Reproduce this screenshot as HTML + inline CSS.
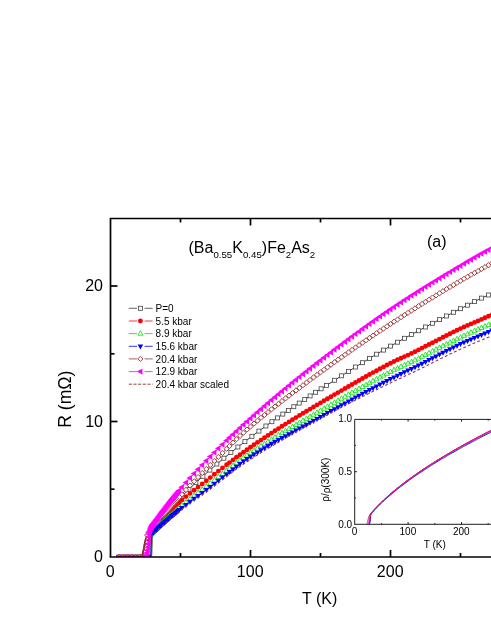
<!DOCTYPE html>
<html><head><meta charset="utf-8"><title>chart</title>
<style>html,body{margin:0;padding:0;background:#fff}body{width:491px;height:635px;overflow:hidden;font-family:"Liberation Sans",sans-serif}</style></head>
<body>
<svg width="491" height="635" viewBox="0 0 491 635" style="display:block;will-change:transform">
<defs>
<clipPath id="cp"><rect x="110.5" y="218.5" width="381" height="338.5"/></clipPath><clipPath id="ci"><rect x="354.7" y="419.4" width="137" height="104.3"/></clipPath>
<rect id="m0" x="-2" y="-2" width="4" height="4" fill="#fff" stroke="#444" stroke-width="0.8"/>
<circle id="m1" r="2.45" fill="#ff0000"/>
<path id="m2" d="M0-2.9L2.5 1.6H-2.5Z" fill="#fff" stroke="#00e000" stroke-width="0.8"/>
<path id="m3" d="M0 3.2L2.8-1.8H-2.8Z" fill="#0000ff"/>
<path id="m4" d="M0-2.6L2.6 0L0 2.6L-2.6 0Z" fill="#fff" stroke="#9c3636" stroke-width="0.95"/>
<path id="m5" d="M-3.5 0L2-3.1V3.1Z" fill="#ff00ff"/>
</defs>
<rect width="491" height="635" fill="#fff"/>
<g clip-path="url(#cp)">
<polyline points="118.9,557.0 123.1,557.0 127.3,557.0 131.5,557.0 135.7,557.0 138.5,557.0 138.6,557.0 138.8,557.0 138.9,557.0 139.1,557.0 139.2,557.0 139.3,557.0 139.5,557.0 139.6,557.0 139.8,557.0 139.9,557.0 139.9,557.0 140.0,557.0 140.2,557.0 140.3,557.0 140.5,557.0 140.6,557.0 140.7,557.0 140.9,557.0 141.0,557.0 141.2,557.0 141.3,557.0 141.4,557.0 141.6,557.0 141.7,557.0 141.9,557.0 142.0,557.0 142.1,557.0 142.3,557.0 142.4,557.0 142.6,557.0 142.7,557.0 142.8,557.0 143.0,557.0 143.1,557.0 143.3,557.0 143.4,557.0 143.5,557.0 143.7,557.0 143.8,557.0 144.0,557.0 144.1,557.0 144.1,557.0 144.2,557.0 144.4,557.0 144.5,557.0 144.7,557.0 144.8,557.0 144.9,557.0 145.1,557.0 145.2,557.0 145.4,557.0 145.5,557.0 145.6,557.0 145.8,557.0 145.9,557.0 146.1,557.0 146.2,557.0 146.3,557.0 146.5,557.0 146.6,557.0 146.8,557.0 146.9,557.0 147.0,557.0 147.2,557.0 147.3,557.0 147.5,557.0 147.6,557.0 147.7,557.0 147.9,557.0 148.0,557.0 148.2,557.0 148.3,557.0 148.3,557.0 148.4,557.0 148.6,557.0 148.7,557.0 148.9,557.0 149.0,557.0 149.1,557.0 149.3,557.0 149.4,557.0 149.6,557.0 149.7,557.0 149.8,557.0 150.0,557.0 150.1,557.0 150.3,557.0 150.4,557.0 150.5,557.0 150.7,557.0 150.8,557.0 151.0,557.0 151.1,556.9 151.2,556.8 151.4,556.6 151.5,556.1 151.7,555.1 151.8,553.0 151.9,549.3 152.1,544.3 152.2,539.1 152.4,535.3 152.5,533.0 152.6,531.7 152.6,531.7 152.8,531.0 152.9,530.6 153.1,530.3 153.2,530.1 153.3,530.0 153.3,529.9 153.5,529.7 153.6,529.5 153.8,529.3 153.9,529.1 153.9,529.1 154.0,528.9 154.2,528.8 154.3,528.6 154.5,528.4 154.5,528.3 154.6,528.2 154.7,528.0 154.9,527.8 155.0,527.6 155.2,527.4 155.2,527.4 155.3,527.2 155.4,527.1 155.6,526.9 155.7,526.7 155.8,526.6 155.9,526.5 156.0,526.3 156.1,526.1 156.3,525.9 156.4,525.7 156.4,525.7 156.6,525.6 156.7,525.4 158.0,523.7 159.2,522.1 160.5,520.5 161.7,518.9 163.0,517.3 164.3,515.7 165.5,514.2 166.8,512.7 168.0,511.2 169.3,509.7 170.6,508.3 171.8,506.9 173.1,505.5 174.3,504.1 175.6,502.7 176.9,501.4 178.1,500.1 179.4,498.8 181.9,496.2 188.9,489.3 195.9,482.6 202.9,476.3 209.9,470.1 216.9,464.0 223.9,458.2 230.9,452.5 237.9,447.0 244.9,441.6 251.9,436.3 258.9,431.1 265.9,426.0 271.9,421.7 277.4,417.9 282.8,414.1 288.3,410.4 293.8,406.7 299.2,403.1 304.7,399.5 310.1,395.9 315.6,392.3 321.1,388.8 326.5,385.4 334.5,380.3 341.5,375.8 348.5,371.4 355.5,367.0 362.5,362.7 369.5,358.4 376.5,354.2 383.5,350.1 390.5,346.1 397.5,342.2 404.5,338.3 411.5,334.5 418.5,330.7 425.5,327.0 432.5,323.3 439.5,319.6 446.5,316.0 453.5,312.3 460.5,308.7 467.5,305.2 474.5,301.6 481.5,298.1 488.5,295.0" fill="none" stroke="#222" stroke-width="0.9"/>
<g><use href="#m0" x="118.9" y="557.0"/><use href="#m0" x="123.1" y="557.0"/><use href="#m0" x="127.3" y="557.0"/><use href="#m0" x="131.5" y="557.0"/><use href="#m0" x="135.7" y="557.0"/><use href="#m0" x="139.9" y="557.0"/><use href="#m0" x="144.1" y="557.0"/><use href="#m0" x="148.3" y="557.0"/><use href="#m0" x="152.6" y="531.7"/><use href="#m0" x="153.3" y="530.0"/><use href="#m0" x="153.9" y="529.1"/><use href="#m0" x="154.5" y="528.3"/><use href="#m0" x="155.2" y="527.4"/><use href="#m0" x="155.8" y="526.6"/><use href="#m0" x="156.4" y="525.7"/><use href="#m0" x="156.7" y="525.4"/><use href="#m0" x="158.0" y="523.7"/><use href="#m0" x="159.2" y="522.1"/><use href="#m0" x="160.5" y="520.5"/><use href="#m0" x="161.7" y="518.9"/><use href="#m0" x="163.0" y="517.3"/><use href="#m0" x="164.3" y="515.7"/><use href="#m0" x="165.5" y="514.2"/><use href="#m0" x="166.8" y="512.7"/><use href="#m0" x="168.0" y="511.2"/><use href="#m0" x="169.3" y="509.7"/><use href="#m0" x="170.6" y="508.3"/><use href="#m0" x="171.8" y="506.9"/><use href="#m0" x="173.1" y="505.5"/><use href="#m0" x="174.3" y="504.1"/><use href="#m0" x="175.6" y="502.7"/><use href="#m0" x="176.9" y="501.4"/><use href="#m0" x="178.1" y="500.1"/><use href="#m0" x="179.4" y="498.8"/><use href="#m0" x="181.9" y="496.2"/><use href="#m0" x="188.9" y="489.3"/><use href="#m0" x="195.9" y="482.6"/><use href="#m0" x="202.9" y="476.3"/><use href="#m0" x="209.9" y="470.1"/><use href="#m0" x="216.9" y="464.0"/><use href="#m0" x="223.9" y="458.2"/><use href="#m0" x="230.9" y="452.5"/><use href="#m0" x="237.9" y="447.0"/><use href="#m0" x="244.9" y="441.6"/><use href="#m0" x="251.9" y="436.3"/><use href="#m0" x="258.9" y="431.1"/><use href="#m0" x="265.9" y="426.0"/><use href="#m0" x="271.9" y="421.7"/><use href="#m0" x="277.4" y="417.9"/><use href="#m0" x="282.8" y="414.1"/><use href="#m0" x="288.3" y="410.4"/><use href="#m0" x="293.8" y="406.7"/><use href="#m0" x="299.2" y="403.1"/><use href="#m0" x="304.7" y="399.5"/><use href="#m0" x="310.1" y="395.9"/><use href="#m0" x="315.6" y="392.3"/><use href="#m0" x="321.1" y="388.8"/><use href="#m0" x="326.5" y="385.4"/><use href="#m0" x="334.5" y="380.3"/><use href="#m0" x="341.5" y="375.8"/><use href="#m0" x="348.5" y="371.4"/><use href="#m0" x="355.5" y="367.0"/><use href="#m0" x="362.5" y="362.7"/><use href="#m0" x="369.5" y="358.4"/><use href="#m0" x="376.5" y="354.2"/><use href="#m0" x="383.5" y="350.1"/><use href="#m0" x="390.5" y="346.1"/><use href="#m0" x="397.5" y="342.2"/><use href="#m0" x="404.5" y="338.3"/><use href="#m0" x="411.5" y="334.5"/><use href="#m0" x="418.5" y="330.7"/><use href="#m0" x="425.5" y="327.0"/><use href="#m0" x="432.5" y="323.3"/><use href="#m0" x="439.5" y="319.6"/><use href="#m0" x="446.5" y="316.0"/><use href="#m0" x="453.5" y="312.3"/><use href="#m0" x="460.5" y="308.7"/><use href="#m0" x="467.5" y="305.2"/><use href="#m0" x="474.5" y="301.6"/><use href="#m0" x="481.5" y="298.1"/><use href="#m0" x="488.5" y="295.0"/></g>
<polyline points="118.9,557.0 123.1,557.0 127.3,557.0 131.5,557.0 135.7,557.0 138.5,557.0 138.6,557.0 138.8,557.0 138.9,557.0 139.1,557.0 139.2,557.0 139.3,557.0 139.5,557.0 139.6,557.0 139.8,557.0 139.9,557.0 139.9,557.0 140.0,557.0 140.2,557.0 140.3,557.0 140.5,557.0 140.6,557.0 140.7,557.0 140.9,557.0 141.0,557.0 141.2,557.0 141.3,557.0 141.4,557.0 141.6,557.0 141.7,557.0 141.9,557.0 142.0,557.0 142.1,557.0 142.3,557.0 142.4,557.0 142.6,557.0 142.7,557.0 142.8,557.0 143.0,557.0 143.1,557.0 143.3,557.0 143.4,557.0 143.5,557.0 143.7,557.0 143.8,557.0 144.0,557.0 144.1,557.0 144.1,557.0 144.2,557.0 144.4,557.0 144.5,557.0 144.7,557.0 144.8,557.0 144.9,557.0 145.1,557.0 145.2,557.0 145.4,557.0 145.5,557.0 145.6,557.0 145.8,557.0 145.9,557.0 146.1,557.0 146.2,557.0 146.3,557.0 146.5,557.0 146.6,557.0 146.8,557.0 146.9,557.0 147.0,557.0 147.2,557.0 147.3,557.0 147.5,557.0 147.6,557.0 147.7,557.0 147.9,557.0 148.0,557.0 148.2,557.0 148.3,557.0 148.3,557.0 148.4,557.0 148.6,557.0 148.7,557.0 148.9,557.0 149.0,557.0 149.1,557.0 149.3,557.0 149.4,557.0 149.6,557.0 149.7,557.0 149.8,557.0 150.0,557.0 150.1,557.0 150.3,556.9 150.4,556.8 150.5,556.7 150.7,556.2 150.8,555.2 151.0,553.3 151.1,549.9 151.2,545.2 151.4,540.4 151.5,536.9 151.7,534.7 151.8,533.6 151.8,533.6 151.9,533.0 152.1,532.6 152.2,532.3 152.4,532.1 152.4,532.0 152.5,532.0 152.6,531.8 152.8,531.6 152.9,531.5 153.1,531.3 153.1,531.3 153.2,531.1 153.3,531.0 153.5,530.8 153.6,530.6 153.7,530.5 153.8,530.4 153.9,530.3 154.0,530.1 154.2,529.9 154.3,529.7 154.3,529.7 154.5,529.5 154.6,529.3 154.7,529.2 154.9,529.0 154.9,528.9 155.0,528.8 155.2,528.6 155.3,528.4 155.4,528.3 155.6,528.1 155.6,528.1 155.7,527.9 155.9,527.7 156.0,527.6 156.1,527.4 156.2,527.3 156.3,527.2 156.4,527.0 156.6,526.8 156.7,526.7 157.7,525.4 158.7,524.2 159.6,523.0 160.6,521.8 161.6,520.7 162.6,519.5 163.6,518.4 164.5,517.2 165.5,516.1 166.5,515.0 167.5,514.0 168.5,512.9 169.4,511.8 170.4,510.8 171.4,509.8 172.4,508.8 173.4,507.8 174.3,506.9 175.3,505.9 176.3,505.0 177.3,504.1 178.3,503.2 179.2,502.3 181.9,500.0 186.0,496.6 190.0,493.4 194.1,490.2 198.1,487.1 202.2,484.0 206.3,480.8 210.3,477.6 214.4,474.3 218.4,471.1 222.5,467.9 226.6,464.8 229.5,462.6 233.0,459.9 236.5,457.3 240.0,454.7 243.5,452.2 247.0,449.7 250.5,447.3 254.0,444.8 257.5,442.4 261.0,440.1 264.5,437.7 268.0,435.4 271.5,433.1 275.0,430.8 278.5,428.6 282.0,426.3 285.5,424.1 289.0,421.9 292.5,419.7 296.0,417.6 299.5,415.4 303.0,413.3 306.5,411.2 310.0,409.1 313.5,407.0 317.0,404.9 320.5,402.9 324.0,400.8 327.5,398.7 331.0,396.7 334.5,394.6 338.0,392.6 341.5,390.6 345.0,388.5 348.5,386.5 352.0,384.5 355.5,382.5 359.0,380.5 362.5,378.5 366.0,376.5 369.5,374.5 373.0,372.6 376.5,370.7 380.0,368.8 383.5,366.9 387.0,365.0 390.5,363.2 394.0,361.5 397.5,359.8 401.0,358.2 404.5,356.6 408.0,355.1 411.5,353.4 415.0,351.7 418.5,349.9 422.0,348.1 425.5,346.3 429.0,344.5 432.5,342.7 436.0,340.9 439.5,339.1 443.0,337.3 446.5,335.5 450.0,333.7 453.5,331.9 457.0,330.2 460.5,328.6 464.0,326.9 467.5,325.4 471.0,323.9 474.5,322.4 478.0,320.9 481.5,319.4 485.0,317.8 488.5,316.3 492.0,314.7" fill="none" stroke="#ff0000" stroke-width="0.9"/>
<g><use href="#m1" x="118.9" y="557.0"/><use href="#m1" x="123.1" y="557.0"/><use href="#m1" x="127.3" y="557.0"/><use href="#m1" x="131.5" y="557.0"/><use href="#m1" x="135.7" y="557.0"/><use href="#m1" x="139.9" y="557.0"/><use href="#m1" x="144.1" y="557.0"/><use href="#m1" x="148.3" y="557.0"/><use href="#m1" x="151.8" y="533.6"/><use href="#m1" x="152.4" y="532.0"/><use href="#m1" x="153.1" y="531.3"/><use href="#m1" x="153.7" y="530.5"/><use href="#m1" x="154.3" y="529.7"/><use href="#m1" x="154.9" y="528.9"/><use href="#m1" x="155.6" y="528.1"/><use href="#m1" x="156.2" y="527.3"/><use href="#m1" x="156.7" y="526.7"/><use href="#m1" x="157.7" y="525.4"/><use href="#m1" x="158.7" y="524.2"/><use href="#m1" x="159.6" y="523.0"/><use href="#m1" x="160.6" y="521.8"/><use href="#m1" x="161.6" y="520.7"/><use href="#m1" x="162.6" y="519.5"/><use href="#m1" x="163.6" y="518.4"/><use href="#m1" x="164.5" y="517.2"/><use href="#m1" x="165.5" y="516.1"/><use href="#m1" x="166.5" y="515.0"/><use href="#m1" x="167.5" y="514.0"/><use href="#m1" x="168.5" y="512.9"/><use href="#m1" x="169.4" y="511.8"/><use href="#m1" x="170.4" y="510.8"/><use href="#m1" x="171.4" y="509.8"/><use href="#m1" x="172.4" y="508.8"/><use href="#m1" x="173.4" y="507.8"/><use href="#m1" x="174.3" y="506.9"/><use href="#m1" x="175.3" y="505.9"/><use href="#m1" x="176.3" y="505.0"/><use href="#m1" x="177.3" y="504.1"/><use href="#m1" x="178.3" y="503.2"/><use href="#m1" x="179.2" y="502.3"/><use href="#m1" x="181.9" y="500.0"/><use href="#m1" x="186.0" y="496.6"/><use href="#m1" x="190.0" y="493.4"/><use href="#m1" x="194.1" y="490.2"/><use href="#m1" x="198.1" y="487.1"/><use href="#m1" x="202.2" y="484.0"/><use href="#m1" x="206.3" y="480.8"/><use href="#m1" x="210.3" y="477.6"/><use href="#m1" x="214.4" y="474.3"/><use href="#m1" x="218.4" y="471.1"/><use href="#m1" x="222.5" y="467.9"/><use href="#m1" x="226.6" y="464.8"/><use href="#m1" x="229.5" y="462.6"/><use href="#m1" x="233.0" y="459.9"/><use href="#m1" x="236.5" y="457.3"/><use href="#m1" x="240.0" y="454.7"/><use href="#m1" x="243.5" y="452.2"/><use href="#m1" x="247.0" y="449.7"/><use href="#m1" x="250.5" y="447.3"/><use href="#m1" x="254.0" y="444.8"/><use href="#m1" x="257.5" y="442.4"/><use href="#m1" x="261.0" y="440.1"/><use href="#m1" x="264.5" y="437.7"/><use href="#m1" x="268.0" y="435.4"/><use href="#m1" x="271.5" y="433.1"/><use href="#m1" x="275.0" y="430.8"/><use href="#m1" x="278.5" y="428.6"/><use href="#m1" x="282.0" y="426.3"/><use href="#m1" x="285.5" y="424.1"/><use href="#m1" x="289.0" y="421.9"/><use href="#m1" x="292.5" y="419.7"/><use href="#m1" x="296.0" y="417.6"/><use href="#m1" x="299.5" y="415.4"/><use href="#m1" x="303.0" y="413.3"/><use href="#m1" x="306.5" y="411.2"/><use href="#m1" x="310.0" y="409.1"/><use href="#m1" x="313.5" y="407.0"/><use href="#m1" x="317.0" y="404.9"/><use href="#m1" x="320.5" y="402.9"/><use href="#m1" x="324.0" y="400.8"/><use href="#m1" x="327.5" y="398.7"/><use href="#m1" x="331.0" y="396.7"/><use href="#m1" x="334.5" y="394.6"/><use href="#m1" x="338.0" y="392.6"/><use href="#m1" x="341.5" y="390.6"/><use href="#m1" x="345.0" y="388.5"/><use href="#m1" x="348.5" y="386.5"/><use href="#m1" x="352.0" y="384.5"/><use href="#m1" x="355.5" y="382.5"/><use href="#m1" x="359.0" y="380.5"/><use href="#m1" x="362.5" y="378.5"/><use href="#m1" x="366.0" y="376.5"/><use href="#m1" x="369.5" y="374.5"/><use href="#m1" x="373.0" y="372.6"/><use href="#m1" x="376.5" y="370.7"/><use href="#m1" x="380.0" y="368.8"/><use href="#m1" x="383.5" y="366.9"/><use href="#m1" x="387.0" y="365.0"/><use href="#m1" x="390.5" y="363.2"/><use href="#m1" x="394.0" y="361.5"/><use href="#m1" x="397.5" y="359.8"/><use href="#m1" x="401.0" y="358.2"/><use href="#m1" x="404.5" y="356.6"/><use href="#m1" x="408.0" y="355.1"/><use href="#m1" x="411.5" y="353.4"/><use href="#m1" x="415.0" y="351.7"/><use href="#m1" x="418.5" y="349.9"/><use href="#m1" x="422.0" y="348.1"/><use href="#m1" x="425.5" y="346.3"/><use href="#m1" x="429.0" y="344.5"/><use href="#m1" x="432.5" y="342.7"/><use href="#m1" x="436.0" y="340.9"/><use href="#m1" x="439.5" y="339.1"/><use href="#m1" x="443.0" y="337.3"/><use href="#m1" x="446.5" y="335.5"/><use href="#m1" x="450.0" y="333.7"/><use href="#m1" x="453.5" y="331.9"/><use href="#m1" x="457.0" y="330.2"/><use href="#m1" x="460.5" y="328.6"/><use href="#m1" x="464.0" y="326.9"/><use href="#m1" x="467.5" y="325.4"/><use href="#m1" x="471.0" y="323.9"/><use href="#m1" x="474.5" y="322.4"/><use href="#m1" x="478.0" y="320.9"/><use href="#m1" x="481.5" y="319.4"/><use href="#m1" x="485.0" y="317.8"/><use href="#m1" x="488.5" y="316.3"/><use href="#m1" x="492.0" y="314.7"/></g>
<polyline points="118.9,557.0 123.1,557.0 127.3,557.0 131.5,557.0 135.7,557.0 138.5,557.0 138.6,557.0 138.8,557.0 138.9,557.0 139.1,557.0 139.2,557.0 139.3,557.0 139.5,557.0 139.6,557.0 139.8,557.0 139.9,557.0 139.9,557.0 140.0,557.0 140.2,557.0 140.3,557.0 140.5,557.0 140.6,557.0 140.7,557.0 140.9,557.0 141.0,557.0 141.2,557.0 141.3,557.0 141.4,557.0 141.6,557.0 141.7,557.0 141.9,557.0 142.0,557.0 142.1,557.0 142.3,557.0 142.4,557.0 142.6,557.0 142.7,557.0 142.8,557.0 143.0,557.0 143.1,557.0 143.3,557.0 143.4,557.0 143.5,557.0 143.7,557.0 143.8,557.0 144.0,557.0 144.1,557.0 144.1,557.0 144.2,557.0 144.4,557.0 144.5,557.0 144.7,557.0 144.8,557.0 144.9,557.0 145.1,557.0 145.2,557.0 145.4,557.0 145.5,557.0 145.6,557.0 145.8,557.0 145.9,557.0 146.1,557.0 146.2,557.0 146.3,557.0 146.5,557.0 146.6,557.0 146.8,557.0 146.9,557.0 147.0,557.0 147.2,557.0 147.3,557.0 147.5,557.0 147.6,557.0 147.7,557.0 147.9,557.0 148.0,557.0 148.2,557.0 148.3,557.0 148.3,557.0 148.4,557.0 148.6,557.0 148.7,557.0 148.9,557.0 149.0,557.0 149.1,556.9 149.3,556.9 149.4,556.7 149.6,556.3 149.7,555.4 149.8,553.6 150.0,550.5 150.1,546.2 150.3,541.8 150.4,538.5 150.5,536.6 150.7,535.5 150.7,535.5 150.8,534.9 151.0,534.6 151.1,534.4 151.2,534.2 151.3,534.1 151.4,534.0 151.5,533.9 151.7,533.7 151.8,533.6 151.9,533.4 151.9,533.4 152.1,533.3 152.2,533.1 152.4,533.0 152.5,532.8 152.6,532.7 152.6,532.7 152.8,532.5 152.9,532.4 153.1,532.2 153.2,532.1 153.2,532.1 153.3,531.9 153.5,531.8 153.6,531.6 153.8,531.5 153.8,531.4 153.9,531.4 154.0,531.2 154.2,531.1 154.3,530.9 154.5,530.8 154.5,530.8 154.6,530.7 154.7,530.5 154.9,530.4 155.0,530.2 155.1,530.2 155.2,530.1 155.3,530.0 155.4,529.8 155.6,529.7 155.7,529.5 155.7,529.5 155.9,529.4 156.0,529.3 156.1,529.1 156.3,529.0 156.3,528.9 156.4,528.8 156.6,528.7 156.7,528.6 157.7,527.6 158.7,526.6 159.6,525.7 160.6,524.7 161.6,523.8 162.6,522.9 163.6,522.0 164.5,521.0 165.5,520.1 166.5,519.2 167.5,518.3 168.5,517.4 169.4,516.6 170.4,515.7 171.4,514.8 172.4,513.9 173.4,513.1 174.3,512.2 175.3,511.4 176.3,510.5 177.3,509.7 178.3,508.8 179.2,508.0 181.9,505.8 186.0,502.5 190.0,499.2 194.1,496.0 198.1,492.9 202.2,489.7 206.3,486.6 210.3,483.5 214.4,480.3 218.4,477.1 222.5,473.9 226.6,470.8 229.5,468.5 233.0,465.8 236.5,463.1 240.0,460.5 243.5,458.0 247.0,455.5 250.5,453.1 254.0,450.8 257.5,448.5 261.0,446.2 264.5,444.0 268.0,441.8 271.5,439.6 275.0,437.4 278.5,435.3 282.0,433.2 285.5,431.1 289.0,429.0 292.5,426.9 296.0,424.9 299.5,422.8 303.0,420.8 306.5,418.8 310.0,416.8 313.5,414.7 317.0,412.7 320.5,410.7 324.0,408.7 327.5,406.7 331.0,404.7 334.5,402.7 338.0,400.7 341.5,398.7 345.0,396.7 348.5,394.7 352.0,392.7 355.5,390.8 359.0,388.8 362.5,386.9 366.0,385.0 369.5,383.1 373.0,381.2 376.5,379.3 380.0,377.4 383.5,375.5 387.0,373.7 390.5,371.9 394.0,370.1 397.5,368.5 401.0,366.8 404.5,365.2 408.0,363.6 411.5,362.0 415.0,360.3 418.5,358.5 422.0,356.7 425.5,354.9 429.0,353.2 432.5,351.4 436.0,349.6 439.5,347.8 443.0,346.1 446.5,344.3 450.0,342.6 453.5,340.9 457.0,339.2 460.5,337.5 464.0,335.8 467.5,334.2 471.0,332.6 474.5,331.0 478.0,329.5 481.5,327.9 485.0,326.4 488.5,325.0 492.0,323.5" fill="none" stroke="#00e000" stroke-width="0.9"/>
<g><use href="#m2" x="118.9" y="557.0"/><use href="#m2" x="123.1" y="557.0"/><use href="#m2" x="127.3" y="557.0"/><use href="#m2" x="131.5" y="557.0"/><use href="#m2" x="135.7" y="557.0"/><use href="#m2" x="139.9" y="557.0"/><use href="#m2" x="144.1" y="557.0"/><use href="#m2" x="148.3" y="557.0"/><use href="#m2" x="150.7" y="535.5"/><use href="#m2" x="151.3" y="534.1"/><use href="#m2" x="151.9" y="533.4"/><use href="#m2" x="152.6" y="532.7"/><use href="#m2" x="153.2" y="532.1"/><use href="#m2" x="153.8" y="531.4"/><use href="#m2" x="154.5" y="530.8"/><use href="#m2" x="155.1" y="530.2"/><use href="#m2" x="155.7" y="529.5"/><use href="#m2" x="156.3" y="528.9"/><use href="#m2" x="156.7" y="528.6"/><use href="#m2" x="157.7" y="527.6"/><use href="#m2" x="158.7" y="526.6"/><use href="#m2" x="159.6" y="525.7"/><use href="#m2" x="160.6" y="524.7"/><use href="#m2" x="161.6" y="523.8"/><use href="#m2" x="162.6" y="522.9"/><use href="#m2" x="163.6" y="522.0"/><use href="#m2" x="164.5" y="521.0"/><use href="#m2" x="165.5" y="520.1"/><use href="#m2" x="166.5" y="519.2"/><use href="#m2" x="167.5" y="518.3"/><use href="#m2" x="168.5" y="517.4"/><use href="#m2" x="169.4" y="516.6"/><use href="#m2" x="170.4" y="515.7"/><use href="#m2" x="171.4" y="514.8"/><use href="#m2" x="172.4" y="513.9"/><use href="#m2" x="173.4" y="513.1"/><use href="#m2" x="174.3" y="512.2"/><use href="#m2" x="175.3" y="511.4"/><use href="#m2" x="176.3" y="510.5"/><use href="#m2" x="177.3" y="509.7"/><use href="#m2" x="178.3" y="508.8"/><use href="#m2" x="179.2" y="508.0"/><use href="#m2" x="181.9" y="505.8"/><use href="#m2" x="186.0" y="502.5"/><use href="#m2" x="190.0" y="499.2"/><use href="#m2" x="194.1" y="496.0"/><use href="#m2" x="198.1" y="492.9"/><use href="#m2" x="202.2" y="489.7"/><use href="#m2" x="206.3" y="486.6"/><use href="#m2" x="210.3" y="483.5"/><use href="#m2" x="214.4" y="480.3"/><use href="#m2" x="218.4" y="477.1"/><use href="#m2" x="222.5" y="473.9"/><use href="#m2" x="226.6" y="470.8"/><use href="#m2" x="229.5" y="468.5"/><use href="#m2" x="233.0" y="465.8"/><use href="#m2" x="236.5" y="463.1"/><use href="#m2" x="240.0" y="460.5"/><use href="#m2" x="243.5" y="458.0"/><use href="#m2" x="247.0" y="455.5"/><use href="#m2" x="250.5" y="453.1"/><use href="#m2" x="254.0" y="450.8"/><use href="#m2" x="257.5" y="448.5"/><use href="#m2" x="261.0" y="446.2"/><use href="#m2" x="264.5" y="444.0"/><use href="#m2" x="268.0" y="441.8"/><use href="#m2" x="271.5" y="439.6"/><use href="#m2" x="275.0" y="437.4"/><use href="#m2" x="278.5" y="435.3"/><use href="#m2" x="282.0" y="433.2"/><use href="#m2" x="285.5" y="431.1"/><use href="#m2" x="289.0" y="429.0"/><use href="#m2" x="292.5" y="426.9"/><use href="#m2" x="296.0" y="424.9"/><use href="#m2" x="299.5" y="422.8"/><use href="#m2" x="303.0" y="420.8"/><use href="#m2" x="306.5" y="418.8"/><use href="#m2" x="310.0" y="416.8"/><use href="#m2" x="313.5" y="414.7"/><use href="#m2" x="317.0" y="412.7"/><use href="#m2" x="320.5" y="410.7"/><use href="#m2" x="324.0" y="408.7"/><use href="#m2" x="327.5" y="406.7"/><use href="#m2" x="331.0" y="404.7"/><use href="#m2" x="334.5" y="402.7"/><use href="#m2" x="338.0" y="400.7"/><use href="#m2" x="341.5" y="398.7"/><use href="#m2" x="345.0" y="396.7"/><use href="#m2" x="348.5" y="394.7"/><use href="#m2" x="352.0" y="392.7"/><use href="#m2" x="355.5" y="390.8"/><use href="#m2" x="359.0" y="388.8"/><use href="#m2" x="362.5" y="386.9"/><use href="#m2" x="366.0" y="385.0"/><use href="#m2" x="369.5" y="383.1"/><use href="#m2" x="373.0" y="381.2"/><use href="#m2" x="376.5" y="379.3"/><use href="#m2" x="380.0" y="377.4"/><use href="#m2" x="383.5" y="375.5"/><use href="#m2" x="387.0" y="373.7"/><use href="#m2" x="390.5" y="371.9"/><use href="#m2" x="394.0" y="370.1"/><use href="#m2" x="397.5" y="368.5"/><use href="#m2" x="401.0" y="366.8"/><use href="#m2" x="404.5" y="365.2"/><use href="#m2" x="408.0" y="363.6"/><use href="#m2" x="411.5" y="362.0"/><use href="#m2" x="415.0" y="360.3"/><use href="#m2" x="418.5" y="358.5"/><use href="#m2" x="422.0" y="356.7"/><use href="#m2" x="425.5" y="354.9"/><use href="#m2" x="429.0" y="353.2"/><use href="#m2" x="432.5" y="351.4"/><use href="#m2" x="436.0" y="349.6"/><use href="#m2" x="439.5" y="347.8"/><use href="#m2" x="443.0" y="346.1"/><use href="#m2" x="446.5" y="344.3"/><use href="#m2" x="450.0" y="342.6"/><use href="#m2" x="453.5" y="340.9"/><use href="#m2" x="457.0" y="339.2"/><use href="#m2" x="460.5" y="337.5"/><use href="#m2" x="464.0" y="335.8"/><use href="#m2" x="467.5" y="334.2"/><use href="#m2" x="471.0" y="332.6"/><use href="#m2" x="474.5" y="331.0"/><use href="#m2" x="478.0" y="329.5"/><use href="#m2" x="481.5" y="327.9"/><use href="#m2" x="485.0" y="326.4"/><use href="#m2" x="488.5" y="325.0"/><use href="#m2" x="492.0" y="323.5"/></g>
<polyline points="118.9,557.0 123.1,557.0 127.3,557.0 131.5,557.0 135.7,557.0 138.5,557.0 138.6,557.0 138.8,557.0 138.9,557.0 139.1,557.0 139.2,557.0 139.3,557.0 139.5,557.0 139.6,557.0 139.8,557.0 139.9,557.0 139.9,557.0 140.0,557.0 140.2,557.0 140.3,557.0 140.5,557.0 140.6,557.0 140.7,557.0 140.9,557.0 141.0,557.0 141.2,557.0 141.3,557.0 141.4,557.0 141.6,557.0 141.7,557.0 141.9,557.0 142.0,557.0 142.1,557.0 142.3,557.0 142.4,557.0 142.6,557.0 142.7,557.0 142.8,557.0 143.0,557.0 143.1,557.0 143.3,557.0 143.4,557.0 143.5,557.0 143.7,557.0 143.8,557.0 144.0,557.0 144.1,557.0 144.1,557.0 144.2,557.0 144.4,557.0 144.5,557.0 144.7,557.0 144.8,557.0 144.9,557.0 145.1,557.0 145.2,557.0 145.4,557.0 145.5,557.0 145.6,557.0 145.8,557.0 145.9,557.0 146.1,557.0 146.2,557.0 146.3,557.0 146.5,557.0 146.6,557.0 146.8,557.0 146.9,557.0 147.0,557.0 147.2,557.0 147.3,557.0 147.5,557.0 147.6,557.0 147.7,557.0 147.9,557.0 148.0,557.0 148.2,557.0 148.3,557.0 148.3,557.0 148.4,557.0 148.6,557.0 148.7,557.0 148.9,557.0 149.0,557.0 149.1,557.0 149.3,557.0 149.4,557.0 149.6,557.0 149.7,557.0 149.8,557.0 150.0,557.0 150.1,556.9 150.3,556.9 150.4,556.7 150.5,556.2 150.7,555.3 150.8,553.4 151.0,550.1 151.1,545.6 151.2,541.0 151.4,537.6 151.5,535.6 151.7,534.5 151.7,534.5 151.8,533.9 151.9,533.6 152.1,533.4 152.2,533.2 152.3,533.1 152.4,533.0 152.5,532.9 152.6,532.8 152.8,532.6 152.9,532.5 152.9,532.5 153.1,532.4 153.2,532.3 153.3,532.1 153.5,532.0 153.5,532.0 153.6,531.9 153.8,531.8 153.9,531.7 154.0,531.5 154.2,531.4 154.2,531.4 154.3,531.3 154.5,531.2 154.6,531.1 154.7,530.9 154.8,530.9 154.9,530.8 155.0,530.7 155.2,530.6 155.3,530.4 155.4,530.3 155.4,530.3 155.6,530.2 155.7,530.1 155.9,530.0 156.0,529.8 156.1,529.8 156.1,529.7 156.3,529.6 156.4,529.5 156.6,529.3 156.7,529.2 156.7,529.2 157.7,528.4 158.7,527.5 159.6,526.7 160.6,525.8 161.6,525.0 162.6,524.1 163.6,523.3 164.5,522.4 165.5,521.6 166.5,520.7 167.5,519.8 168.5,519.0 169.4,518.1 170.4,517.3 171.4,516.4 172.4,515.6 173.4,514.8 174.3,514.0 175.3,513.1 176.3,512.3 177.3,511.5 178.3,510.7 179.2,509.9 181.9,507.8 186.0,504.7 190.0,501.6 194.1,498.6 198.1,495.7 202.2,492.7 206.3,489.8 210.3,486.8 214.4,483.7 218.4,480.6 222.5,477.4 226.6,474.2 229.5,471.9 233.0,469.2 236.5,466.5 240.0,463.9 243.5,461.4 247.0,458.9 250.5,456.6 254.0,454.4 257.5,452.2 261.0,450.1 264.5,448.0 268.0,445.9 271.5,443.9 275.0,441.9 278.5,439.9 282.0,437.9 285.5,436.0 289.0,434.1 292.5,432.2 296.0,430.2 299.5,428.3 303.0,426.4 306.5,424.5 310.0,422.6 313.5,420.7 317.0,418.8 320.5,416.8 324.0,414.8 327.5,412.9 331.0,410.9 334.5,409.0 338.0,407.0 341.5,405.1 345.0,403.2 348.5,401.2 352.0,399.3 355.5,397.4 359.0,395.5 362.5,393.6 366.0,391.8 369.5,389.9 373.0,388.0 376.5,386.2 380.0,384.4 383.5,382.5 387.0,380.7 390.5,378.9 394.0,377.2 397.5,375.5 401.0,373.8 404.5,372.1 408.0,370.4 411.5,368.7 415.0,367.0 418.5,365.3 422.0,363.5 425.5,361.7 429.0,359.9 432.5,358.1 436.0,356.2 439.5,354.4 443.0,352.6 446.5,350.8 450.0,349.0 453.5,347.2 457.0,345.5 460.5,343.9 464.0,342.3 467.5,340.7 471.0,339.2 474.5,337.7 478.0,336.2 481.5,334.7 485.0,333.2 488.5,331.8 492.0,330.3" fill="none" stroke="#0000ff" stroke-width="0.9"/>
<g><use href="#m3" x="118.9" y="557.0"/><use href="#m3" x="123.1" y="557.0"/><use href="#m3" x="127.3" y="557.0"/><use href="#m3" x="131.5" y="557.0"/><use href="#m3" x="135.7" y="557.0"/><use href="#m3" x="139.9" y="557.0"/><use href="#m3" x="144.1" y="557.0"/><use href="#m3" x="148.3" y="557.0"/><use href="#m3" x="151.7" y="534.5"/><use href="#m3" x="152.3" y="533.1"/><use href="#m3" x="152.9" y="532.5"/><use href="#m3" x="153.5" y="532.0"/><use href="#m3" x="154.2" y="531.4"/><use href="#m3" x="154.8" y="530.9"/><use href="#m3" x="155.4" y="530.3"/><use href="#m3" x="156.1" y="529.8"/><use href="#m3" x="156.7" y="529.2"/><use href="#m3" x="156.7" y="529.2"/><use href="#m3" x="157.7" y="528.4"/><use href="#m3" x="158.7" y="527.5"/><use href="#m3" x="159.6" y="526.7"/><use href="#m3" x="160.6" y="525.8"/><use href="#m3" x="161.6" y="525.0"/><use href="#m3" x="162.6" y="524.1"/><use href="#m3" x="163.6" y="523.3"/><use href="#m3" x="164.5" y="522.4"/><use href="#m3" x="165.5" y="521.6"/><use href="#m3" x="166.5" y="520.7"/><use href="#m3" x="167.5" y="519.8"/><use href="#m3" x="168.5" y="519.0"/><use href="#m3" x="169.4" y="518.1"/><use href="#m3" x="170.4" y="517.3"/><use href="#m3" x="171.4" y="516.4"/><use href="#m3" x="172.4" y="515.6"/><use href="#m3" x="173.4" y="514.8"/><use href="#m3" x="174.3" y="514.0"/><use href="#m3" x="175.3" y="513.1"/><use href="#m3" x="176.3" y="512.3"/><use href="#m3" x="177.3" y="511.5"/><use href="#m3" x="178.3" y="510.7"/><use href="#m3" x="179.2" y="509.9"/><use href="#m3" x="181.9" y="507.8"/><use href="#m3" x="186.0" y="504.7"/><use href="#m3" x="190.0" y="501.6"/><use href="#m3" x="194.1" y="498.6"/><use href="#m3" x="198.1" y="495.7"/><use href="#m3" x="202.2" y="492.7"/><use href="#m3" x="206.3" y="489.8"/><use href="#m3" x="210.3" y="486.8"/><use href="#m3" x="214.4" y="483.7"/><use href="#m3" x="218.4" y="480.6"/><use href="#m3" x="222.5" y="477.4"/><use href="#m3" x="226.6" y="474.2"/><use href="#m3" x="229.5" y="471.9"/><use href="#m3" x="233.0" y="469.2"/><use href="#m3" x="236.5" y="466.5"/><use href="#m3" x="240.0" y="463.9"/><use href="#m3" x="243.5" y="461.4"/><use href="#m3" x="247.0" y="458.9"/><use href="#m3" x="250.5" y="456.6"/><use href="#m3" x="254.0" y="454.4"/><use href="#m3" x="257.5" y="452.2"/><use href="#m3" x="261.0" y="450.1"/><use href="#m3" x="264.5" y="448.0"/><use href="#m3" x="268.0" y="445.9"/><use href="#m3" x="271.5" y="443.9"/><use href="#m3" x="275.0" y="441.9"/><use href="#m3" x="278.5" y="439.9"/><use href="#m3" x="282.0" y="437.9"/><use href="#m3" x="285.5" y="436.0"/><use href="#m3" x="289.0" y="434.1"/><use href="#m3" x="292.5" y="432.2"/><use href="#m3" x="296.0" y="430.2"/><use href="#m3" x="299.5" y="428.3"/><use href="#m3" x="303.0" y="426.4"/><use href="#m3" x="306.5" y="424.5"/><use href="#m3" x="310.0" y="422.6"/><use href="#m3" x="313.5" y="420.7"/><use href="#m3" x="317.0" y="418.8"/><use href="#m3" x="320.5" y="416.8"/><use href="#m3" x="324.0" y="414.8"/><use href="#m3" x="327.5" y="412.9"/><use href="#m3" x="331.0" y="410.9"/><use href="#m3" x="334.5" y="409.0"/><use href="#m3" x="338.0" y="407.0"/><use href="#m3" x="341.5" y="405.1"/><use href="#m3" x="345.0" y="403.2"/><use href="#m3" x="348.5" y="401.2"/><use href="#m3" x="352.0" y="399.3"/><use href="#m3" x="355.5" y="397.4"/><use href="#m3" x="359.0" y="395.5"/><use href="#m3" x="362.5" y="393.6"/><use href="#m3" x="366.0" y="391.8"/><use href="#m3" x="369.5" y="389.9"/><use href="#m3" x="373.0" y="388.0"/><use href="#m3" x="376.5" y="386.2"/><use href="#m3" x="380.0" y="384.4"/><use href="#m3" x="383.5" y="382.5"/><use href="#m3" x="387.0" y="380.7"/><use href="#m3" x="390.5" y="378.9"/><use href="#m3" x="394.0" y="377.2"/><use href="#m3" x="397.5" y="375.5"/><use href="#m3" x="401.0" y="373.8"/><use href="#m3" x="404.5" y="372.1"/><use href="#m3" x="408.0" y="370.4"/><use href="#m3" x="411.5" y="368.7"/><use href="#m3" x="415.0" y="367.0"/><use href="#m3" x="418.5" y="365.3"/><use href="#m3" x="422.0" y="363.5"/><use href="#m3" x="425.5" y="361.7"/><use href="#m3" x="429.0" y="359.9"/><use href="#m3" x="432.5" y="358.1"/><use href="#m3" x="436.0" y="356.2"/><use href="#m3" x="439.5" y="354.4"/><use href="#m3" x="443.0" y="352.6"/><use href="#m3" x="446.5" y="350.8"/><use href="#m3" x="450.0" y="349.0"/><use href="#m3" x="453.5" y="347.2"/><use href="#m3" x="457.0" y="345.5"/><use href="#m3" x="460.5" y="343.9"/><use href="#m3" x="464.0" y="342.3"/><use href="#m3" x="467.5" y="340.7"/><use href="#m3" x="471.0" y="339.2"/><use href="#m3" x="474.5" y="337.7"/><use href="#m3" x="478.0" y="336.2"/><use href="#m3" x="481.5" y="334.7"/><use href="#m3" x="485.0" y="333.2"/><use href="#m3" x="488.5" y="331.8"/><use href="#m3" x="492.0" y="330.3"/></g>
<polyline points="140.6,556.6 140.7,556.6 140.9,556.5 141.0,556.4 141.2,556.3 141.3,556.2 141.4,556.0 141.6,555.9 141.7,555.7 141.9,555.5 142.0,555.2 142.1,554.9 142.3,554.6 142.4,554.3 142.6,553.9 142.7,553.4 142.8,552.9 143.0,552.4 143.1,551.8 143.3,551.1 143.4,550.4 143.5,549.7 143.7,549.0 143.8,548.2 144.0,547.4 144.1,546.6 144.2,545.8 144.4,545.1 144.5,544.3 144.7,543.5 144.8,542.8 144.9,542.1 145.1,541.5 145.2,540.8 145.4,540.3 145.5,539.7 145.6,539.2 145.8,538.7 145.9,538.2 146.1,537.8 146.2,537.4 146.3,537.0 146.5,536.6 146.6,536.3 146.8,536.0 146.9,535.7 147.0,535.4 147.2,535.1 147.3,534.8" fill="none" stroke="#8e2424" stroke-width="1.7"/>
<polyline points="118.9,557.0 123.1,557.0 127.3,557.0 131.5,557.0 135.7,557.0 138.5,557.0 138.6,557.0 138.8,557.0 138.9,557.0 139.1,556.9 139.2,556.9 139.3,556.9 139.5,556.9 139.6,556.9 139.8,556.9 139.9,556.8 139.9,556.8 140.0,556.8 140.2,556.8 140.3,556.7 140.5,556.7 140.6,556.6 140.7,556.6 140.9,556.5 141.0,556.4 141.2,556.3 141.3,556.2 141.4,556.0 141.6,555.9 141.7,555.7 141.9,555.5 142.0,555.2 142.1,554.9 142.3,554.6 142.4,554.3 142.6,553.9 142.7,553.4 142.8,552.9 143.0,552.4 143.1,551.8 143.3,551.1 143.4,550.4 143.5,549.7 143.7,549.0 143.8,548.2 144.0,547.4 144.1,546.6 144.2,545.8 144.4,545.1 144.5,544.3 144.7,543.5 144.8,542.8 144.9,542.1 145.1,541.5 145.2,540.8 145.4,540.3 145.5,539.7 145.6,539.2 145.8,538.7 145.9,538.2 146.1,537.8 146.2,537.4 146.3,537.0 146.5,536.6 146.6,536.3 146.8,536.0 146.9,535.7 147.0,535.4 147.2,535.1 147.2,535.1 147.3,534.8 147.5,534.6 147.6,534.3 147.7,534.1 147.9,533.8 148.0,533.6 148.2,533.4 148.3,533.1 148.3,533.1 148.4,532.9 148.6,532.7 148.7,532.5 148.9,532.3 149.0,532.1 149.1,531.9 149.3,531.7 149.3,531.7 149.4,531.5 149.6,531.3 149.7,531.1 149.8,530.9 150.0,530.7 150.1,530.5 150.3,530.3 150.3,530.3 150.4,530.1 150.5,529.9 150.7,529.7 150.8,529.5 151.0,529.3 151.1,529.1 151.2,528.9 151.2,528.9 151.4,528.7 151.5,528.5 151.7,528.3 151.8,528.1 151.9,528.0 152.1,527.8 152.2,527.6 152.2,527.6 152.4,527.4 152.5,527.2 152.6,527.0 152.8,526.9 152.9,526.7 153.1,526.5 153.2,526.4 153.2,526.4 153.3,526.2 153.5,526.0 153.6,525.9 153.8,525.7 153.9,525.5 154.0,525.4 154.2,525.2 154.2,525.2 154.3,525.1 154.5,524.9 154.6,524.7 154.7,524.6 154.9,524.4 155.0,524.3 155.2,524.1 155.2,524.1 155.3,523.9 155.4,523.8 155.6,523.6 155.7,523.5 155.9,523.3 156.0,523.1 156.1,523.0 156.1,523.0 156.3,522.8 156.4,522.7 156.6,522.5 157.1,521.9 158.1,520.8 159.1,519.7 160.1,518.6 161.0,517.5 162.0,516.4 163.0,515.3 164.0,514.3 165.0,513.2 165.9,512.1 166.9,511.0 167.9,510.0 168.9,508.9 169.9,507.8 170.8,506.7 171.8,505.6 172.8,504.5 173.8,503.4 174.8,502.3 175.7,501.2 176.7,500.1 177.7,499.0 178.7,497.9 179.7,496.8 181.9,494.3 186.0,489.9 190.0,485.5 194.1,481.3 198.1,477.1 202.2,473.0 206.3,469.0 210.3,465.0 214.4,460.9 218.4,456.9 222.5,452.9 226.6,448.8 229.5,446.0 233.0,442.6 236.5,439.2 240.0,435.9 243.5,432.7 247.0,429.6 250.5,426.6 254.0,423.6 257.5,420.7 261.0,417.8 264.5,415.0 268.0,412.1 271.5,409.3 275.0,406.6 278.5,403.8 282.0,401.1 285.5,398.4 289.0,395.7 292.5,393.0 296.0,390.4 299.5,387.8 303.0,385.2 306.5,382.6 310.0,380.0 313.5,377.4 317.0,374.9 320.5,372.3 324.0,369.8 327.5,367.3 331.0,364.7 334.5,362.2 338.0,359.7 341.5,357.3 345.0,354.8 348.5,352.4 352.0,349.9 355.5,347.5 359.0,345.1 362.5,342.7 366.0,340.3 369.5,337.9 373.0,335.6 376.5,333.2 380.0,330.9 383.5,328.6 387.0,326.3 390.5,324.0 394.0,321.7 397.5,319.5 401.0,317.2 404.5,315.0 408.0,312.8 411.5,310.6 415.0,308.4 418.5,306.2 422.0,304.0 425.5,301.8 429.0,299.7 432.5,297.5 436.0,295.4 439.5,293.3 443.0,291.2 446.5,289.1 450.0,287.0 453.5,284.9 457.0,282.9 460.5,280.8 464.0,278.8 467.5,276.8 471.0,274.8 474.5,272.9 478.0,271.0 481.5,269.0 485.0,267.1 488.5,265.2 492.0,263.2" fill="none" stroke="#993333" stroke-width="0.9"/>
<g><use href="#m4" x="118.9" y="557.0"/><use href="#m4" x="123.1" y="557.0"/><use href="#m4" x="127.3" y="557.0"/><use href="#m4" x="131.5" y="557.0"/><use href="#m4" x="135.7" y="557.0"/><use href="#m4" x="139.9" y="556.8"/><use href="#m4" x="147.2" y="535.1"/><use href="#m4" x="148.3" y="533.1"/><use href="#m4" x="149.3" y="531.7"/><use href="#m4" x="150.3" y="530.3"/><use href="#m4" x="151.2" y="528.9"/><use href="#m4" x="152.2" y="527.6"/><use href="#m4" x="153.2" y="526.4"/><use href="#m4" x="154.2" y="525.2"/><use href="#m4" x="155.2" y="524.1"/><use href="#m4" x="156.1" y="523.0"/><use href="#m4" x="157.1" y="521.9"/><use href="#m4" x="158.1" y="520.8"/><use href="#m4" x="159.1" y="519.7"/><use href="#m4" x="160.1" y="518.6"/><use href="#m4" x="161.0" y="517.5"/><use href="#m4" x="162.0" y="516.4"/><use href="#m4" x="163.0" y="515.3"/><use href="#m4" x="164.0" y="514.3"/><use href="#m4" x="165.0" y="513.2"/><use href="#m4" x="165.9" y="512.1"/><use href="#m4" x="166.9" y="511.0"/><use href="#m4" x="167.9" y="510.0"/><use href="#m4" x="168.9" y="508.9"/><use href="#m4" x="169.9" y="507.8"/><use href="#m4" x="170.8" y="506.7"/><use href="#m4" x="171.8" y="505.6"/><use href="#m4" x="172.8" y="504.5"/><use href="#m4" x="173.8" y="503.4"/><use href="#m4" x="174.8" y="502.3"/><use href="#m4" x="175.7" y="501.2"/><use href="#m4" x="176.7" y="500.1"/><use href="#m4" x="177.7" y="499.0"/><use href="#m4" x="178.7" y="497.9"/><use href="#m4" x="179.7" y="496.8"/><use href="#m4" x="181.9" y="494.3"/><use href="#m4" x="186.0" y="489.9"/><use href="#m4" x="190.0" y="485.5"/><use href="#m4" x="194.1" y="481.3"/><use href="#m4" x="198.1" y="477.1"/><use href="#m4" x="202.2" y="473.0"/><use href="#m4" x="206.3" y="469.0"/><use href="#m4" x="210.3" y="465.0"/><use href="#m4" x="214.4" y="460.9"/><use href="#m4" x="218.4" y="456.9"/><use href="#m4" x="222.5" y="452.9"/><use href="#m4" x="226.6" y="448.8"/><use href="#m4" x="229.5" y="446.0"/><use href="#m4" x="233.0" y="442.6"/><use href="#m4" x="236.5" y="439.2"/><use href="#m4" x="240.0" y="435.9"/><use href="#m4" x="243.5" y="432.7"/><use href="#m4" x="247.0" y="429.6"/><use href="#m4" x="250.5" y="426.6"/><use href="#m4" x="254.0" y="423.6"/><use href="#m4" x="257.5" y="420.7"/><use href="#m4" x="261.0" y="417.8"/><use href="#m4" x="264.5" y="415.0"/><use href="#m4" x="268.0" y="412.1"/><use href="#m4" x="271.5" y="409.3"/><use href="#m4" x="275.0" y="406.6"/><use href="#m4" x="278.5" y="403.8"/><use href="#m4" x="282.0" y="401.1"/><use href="#m4" x="285.5" y="398.4"/><use href="#m4" x="289.0" y="395.7"/><use href="#m4" x="292.5" y="393.0"/><use href="#m4" x="296.0" y="390.4"/><use href="#m4" x="299.5" y="387.8"/><use href="#m4" x="303.0" y="385.2"/><use href="#m4" x="306.5" y="382.6"/><use href="#m4" x="310.0" y="380.0"/><use href="#m4" x="313.5" y="377.4"/><use href="#m4" x="317.0" y="374.9"/><use href="#m4" x="320.5" y="372.3"/><use href="#m4" x="324.0" y="369.8"/><use href="#m4" x="327.5" y="367.3"/><use href="#m4" x="331.0" y="364.7"/><use href="#m4" x="334.5" y="362.2"/><use href="#m4" x="338.0" y="359.7"/><use href="#m4" x="341.5" y="357.3"/><use href="#m4" x="345.0" y="354.8"/><use href="#m4" x="348.5" y="352.4"/><use href="#m4" x="352.0" y="349.9"/><use href="#m4" x="355.5" y="347.5"/><use href="#m4" x="359.0" y="345.1"/><use href="#m4" x="362.5" y="342.7"/><use href="#m4" x="366.0" y="340.3"/><use href="#m4" x="369.5" y="337.9"/><use href="#m4" x="373.0" y="335.6"/><use href="#m4" x="376.5" y="333.2"/><use href="#m4" x="380.0" y="330.9"/><use href="#m4" x="383.5" y="328.6"/><use href="#m4" x="387.0" y="326.3"/><use href="#m4" x="390.5" y="324.0"/><use href="#m4" x="394.0" y="321.7"/><use href="#m4" x="397.5" y="319.5"/><use href="#m4" x="401.0" y="317.2"/><use href="#m4" x="404.5" y="315.0"/><use href="#m4" x="408.0" y="312.8"/><use href="#m4" x="411.5" y="310.6"/><use href="#m4" x="415.0" y="308.4"/><use href="#m4" x="418.5" y="306.2"/><use href="#m4" x="422.0" y="304.0"/><use href="#m4" x="425.5" y="301.8"/><use href="#m4" x="429.0" y="299.7"/><use href="#m4" x="432.5" y="297.5"/><use href="#m4" x="436.0" y="295.4"/><use href="#m4" x="439.5" y="293.3"/><use href="#m4" x="443.0" y="291.2"/><use href="#m4" x="446.5" y="289.1"/><use href="#m4" x="450.0" y="287.0"/><use href="#m4" x="453.5" y="284.9"/><use href="#m4" x="457.0" y="282.9"/><use href="#m4" x="460.5" y="280.8"/><use href="#m4" x="464.0" y="278.8"/><use href="#m4" x="467.5" y="276.8"/><use href="#m4" x="471.0" y="274.8"/><use href="#m4" x="474.5" y="272.9"/><use href="#m4" x="478.0" y="271.0"/><use href="#m4" x="481.5" y="269.0"/><use href="#m4" x="485.0" y="267.1"/><use href="#m4" x="488.5" y="265.2"/><use href="#m4" x="492.0" y="263.2"/></g>
<polyline points="118.9,557.0 123.1,557.0 127.3,557.0 131.5,557.0 135.7,557.0 138.5,557.0 138.6,557.0 138.8,557.0 138.9,557.0 139.1,557.0 139.2,557.0 139.3,557.0 139.5,557.0 139.6,557.0 139.8,557.0 139.9,557.0 139.9,557.0 140.0,557.0 140.2,557.0 140.3,557.0 140.5,557.0 140.6,557.0 140.7,557.0 140.9,557.0 141.0,557.0 141.2,557.0 141.3,557.0 141.4,557.0 141.6,557.0 141.7,557.0 141.9,557.0 142.0,557.0 142.1,557.0 142.3,557.0 142.4,557.0 142.6,557.0 142.7,557.0 142.8,557.0 143.0,557.0 143.1,557.0 143.3,557.0 143.4,557.0 143.5,557.0 143.7,557.0 143.8,557.0 144.0,557.0 144.1,557.0 144.1,557.0 144.2,556.9 144.4,556.9 144.4,556.9 144.5,556.9 144.7,556.9 144.8,556.9 144.8,556.9 144.9,556.8 145.1,556.8 145.2,556.8 145.2,556.7 145.4,556.7 145.5,556.6 145.5,556.6 145.6,556.5 145.8,556.4 145.8,556.3 145.9,556.3 146.1,556.1 146.2,555.9 146.2,555.9 146.3,555.7 146.5,555.4 146.6,555.2 146.6,555.0 146.8,554.6 146.9,554.1 146.9,554.1 147.0,553.5 147.2,552.9 147.2,552.5 147.3,552.1 147.5,551.2 147.6,550.2 147.6,550.2 147.7,549.1 147.9,547.9 147.9,547.3 148.0,546.6 148.2,545.2 148.3,543.8 148.3,543.8 148.4,542.4 148.6,541.0 148.7,540.3 148.7,539.6 148.9,538.3 149.0,537.0 149.0,537.0 149.1,535.8 149.3,534.7 149.3,534.2 149.4,533.7 149.6,532.8 149.7,532.0 149.7,532.0 149.8,531.2 150.0,530.5 150.1,530.2 150.1,529.9 150.3,529.4 150.4,528.9 150.4,528.9 150.5,528.5 150.7,528.1 150.8,527.9 150.8,527.8 151.0,527.4 151.1,527.1 151.1,527.1 151.2,526.9 151.4,526.6 151.4,526.5 151.5,526.3 151.7,526.1 151.8,525.9 151.8,525.9 151.9,525.7 152.1,525.4 152.2,525.3 152.2,525.2 152.4,525.0 152.5,524.8 152.5,524.8 152.6,524.6 152.8,524.4 152.8,524.3 152.9,524.2 153.1,524.0 153.2,523.8 153.2,523.8 153.3,523.7 153.5,523.5 153.6,523.4 153.6,523.3 153.8,523.1 153.9,522.9 153.9,522.9 154.0,522.7 154.2,522.5 154.3,522.3 154.5,522.1 154.6,522.0 154.7,521.8 154.7,521.8 154.9,521.6 155.0,521.4 155.2,521.2 155.3,521.0 155.4,520.8 155.6,520.6 155.6,520.6 155.7,520.4 155.9,520.2 156.0,520.0 156.1,519.8 156.3,519.6 156.4,519.4 156.4,519.4 156.6,519.3 157.3,518.3 158.1,517.1 158.9,516.0 159.8,514.9 160.6,513.7 161.5,512.6 162.3,511.5 163.1,510.4 164.0,509.3 164.8,508.2 165.7,507.1 166.5,506.0 167.3,504.9 168.2,503.9 169.0,502.8 169.9,501.7 170.7,500.7 171.5,499.6 172.4,498.6 173.2,497.6 174.1,496.5 174.9,495.5 175.7,494.5 176.6,493.5 177.4,492.5 178.3,491.5 179.1,490.5 181.9,487.2 186.0,482.6 190.0,478.1 194.1,473.6 198.1,469.3 202.2,465.0 206.3,460.8 210.3,456.6 214.4,452.5 218.4,448.4 222.5,444.5 226.6,440.5 229.5,437.7 233.0,434.4 236.5,431.2 240.0,427.9 243.5,424.7 247.0,421.6 250.5,418.4 254.0,415.3 257.5,412.2 261.0,409.2 264.5,406.1 268.0,403.1 271.5,400.1 275.0,397.2 278.5,394.2 282.0,391.3 285.5,388.4 289.0,385.5 292.5,382.6 296.0,379.8 299.5,377.0 303.0,374.1 306.5,371.4 310.0,368.6 313.5,365.8 317.0,363.1 320.5,360.4 324.0,357.7 327.5,355.0 331.0,352.4 334.5,349.7 338.0,347.1 341.5,344.4 345.0,341.8 348.5,339.2 352.0,336.6 355.5,334.0 359.0,331.5 362.5,328.9 366.0,326.4 369.5,323.9 373.0,321.4 376.5,318.9 380.0,316.5 383.5,314.1 387.0,311.7 390.5,309.3 394.0,307.0 397.5,304.7 401.0,302.4 404.5,300.1 408.0,297.9 411.5,295.6 415.0,293.4 418.5,291.2 422.0,289.0 425.5,286.8 429.0,284.7 432.5,282.5 436.0,280.4 439.5,278.3 443.0,276.2 446.5,274.1 450.0,272.0 453.5,269.9 457.0,267.8 460.5,265.8 464.0,263.7 467.5,261.6 471.0,259.6 474.5,257.6 478.0,255.5 481.5,253.6 485.0,251.7 488.5,249.8 492.0,247.9" fill="none" stroke="#ff00ff" stroke-width="0.9"/>
<g><use href="#m5" x="118.9" y="557.0"/><use href="#m5" x="123.1" y="557.0"/><use href="#m5" x="127.3" y="557.0"/><use href="#m5" x="131.5" y="557.0"/><use href="#m5" x="135.7" y="557.0"/><use href="#m5" x="139.9" y="557.0"/><use href="#m5" x="144.1" y="557.0"/><use href="#m5" x="144.4" y="556.9"/><use href="#m5" x="144.8" y="556.9"/><use href="#m5" x="145.2" y="556.8"/><use href="#m5" x="145.5" y="556.6"/><use href="#m5" x="145.8" y="556.3"/><use href="#m5" x="146.2" y="555.9"/><use href="#m5" x="146.6" y="555.2"/><use href="#m5" x="146.9" y="554.1"/><use href="#m5" x="147.2" y="552.5"/><use href="#m5" x="147.6" y="550.2"/><use href="#m5" x="147.9" y="547.3"/><use href="#m5" x="148.3" y="543.8"/><use href="#m5" x="148.7" y="540.3"/><use href="#m5" x="149.0" y="537.0"/><use href="#m5" x="149.3" y="534.2"/><use href="#m5" x="149.7" y="532.0"/><use href="#m5" x="150.1" y="530.2"/><use href="#m5" x="150.4" y="528.9"/><use href="#m5" x="150.8" y="527.9"/><use href="#m5" x="151.1" y="527.1"/><use href="#m5" x="151.4" y="526.5"/><use href="#m5" x="151.8" y="525.9"/><use href="#m5" x="152.2" y="525.3"/><use href="#m5" x="152.5" y="524.8"/><use href="#m5" x="152.8" y="524.3"/><use href="#m5" x="153.2" y="523.8"/><use href="#m5" x="153.6" y="523.4"/><use href="#m5" x="153.9" y="522.9"/><use href="#m5" x="154.7" y="521.8"/><use href="#m5" x="155.6" y="520.6"/><use href="#m5" x="156.4" y="519.4"/><use href="#m5" x="157.3" y="518.3"/><use href="#m5" x="158.1" y="517.1"/><use href="#m5" x="158.9" y="516.0"/><use href="#m5" x="159.8" y="514.9"/><use href="#m5" x="160.6" y="513.7"/><use href="#m5" x="161.5" y="512.6"/><use href="#m5" x="162.3" y="511.5"/><use href="#m5" x="163.1" y="510.4"/><use href="#m5" x="164.0" y="509.3"/><use href="#m5" x="164.8" y="508.2"/><use href="#m5" x="165.7" y="507.1"/><use href="#m5" x="166.5" y="506.0"/><use href="#m5" x="167.3" y="504.9"/><use href="#m5" x="168.2" y="503.9"/><use href="#m5" x="169.0" y="502.8"/><use href="#m5" x="169.9" y="501.7"/><use href="#m5" x="170.7" y="500.7"/><use href="#m5" x="171.5" y="499.6"/><use href="#m5" x="172.4" y="498.6"/><use href="#m5" x="173.2" y="497.6"/><use href="#m5" x="174.1" y="496.5"/><use href="#m5" x="174.9" y="495.5"/><use href="#m5" x="175.7" y="494.5"/><use href="#m5" x="176.6" y="493.5"/><use href="#m5" x="177.4" y="492.5"/><use href="#m5" x="178.3" y="491.5"/><use href="#m5" x="179.1" y="490.5"/><use href="#m5" x="181.9" y="487.2"/><use href="#m5" x="186.0" y="482.6"/><use href="#m5" x="190.0" y="478.1"/><use href="#m5" x="194.1" y="473.6"/><use href="#m5" x="198.1" y="469.3"/><use href="#m5" x="202.2" y="465.0"/><use href="#m5" x="206.3" y="460.8"/><use href="#m5" x="210.3" y="456.6"/><use href="#m5" x="214.4" y="452.5"/><use href="#m5" x="218.4" y="448.4"/><use href="#m5" x="222.5" y="444.5"/><use href="#m5" x="226.6" y="440.5"/><use href="#m5" x="229.5" y="437.7"/><use href="#m5" x="233.0" y="434.4"/><use href="#m5" x="236.5" y="431.2"/><use href="#m5" x="240.0" y="427.9"/><use href="#m5" x="243.5" y="424.7"/><use href="#m5" x="247.0" y="421.6"/><use href="#m5" x="250.5" y="418.4"/><use href="#m5" x="254.0" y="415.3"/><use href="#m5" x="257.5" y="412.2"/><use href="#m5" x="261.0" y="409.2"/><use href="#m5" x="264.5" y="406.1"/><use href="#m5" x="268.0" y="403.1"/><use href="#m5" x="271.5" y="400.1"/><use href="#m5" x="275.0" y="397.2"/><use href="#m5" x="278.5" y="394.2"/><use href="#m5" x="282.0" y="391.3"/><use href="#m5" x="285.5" y="388.4"/><use href="#m5" x="289.0" y="385.5"/><use href="#m5" x="292.5" y="382.6"/><use href="#m5" x="296.0" y="379.8"/><use href="#m5" x="299.5" y="377.0"/><use href="#m5" x="303.0" y="374.1"/><use href="#m5" x="306.5" y="371.4"/><use href="#m5" x="310.0" y="368.6"/><use href="#m5" x="313.5" y="365.8"/><use href="#m5" x="317.0" y="363.1"/><use href="#m5" x="320.5" y="360.4"/><use href="#m5" x="324.0" y="357.7"/><use href="#m5" x="327.5" y="355.0"/><use href="#m5" x="331.0" y="352.4"/><use href="#m5" x="334.5" y="349.7"/><use href="#m5" x="338.0" y="347.1"/><use href="#m5" x="341.5" y="344.4"/><use href="#m5" x="345.0" y="341.8"/><use href="#m5" x="348.5" y="339.2"/><use href="#m5" x="352.0" y="336.6"/><use href="#m5" x="355.5" y="334.0"/><use href="#m5" x="359.0" y="331.5"/><use href="#m5" x="362.5" y="328.9"/><use href="#m5" x="366.0" y="326.4"/><use href="#m5" x="369.5" y="323.9"/><use href="#m5" x="373.0" y="321.4"/><use href="#m5" x="376.5" y="318.9"/><use href="#m5" x="380.0" y="316.5"/><use href="#m5" x="383.5" y="314.1"/><use href="#m5" x="387.0" y="311.7"/><use href="#m5" x="390.5" y="309.3"/><use href="#m5" x="394.0" y="307.0"/><use href="#m5" x="397.5" y="304.7"/><use href="#m5" x="401.0" y="302.4"/><use href="#m5" x="404.5" y="300.1"/><use href="#m5" x="408.0" y="297.9"/><use href="#m5" x="411.5" y="295.6"/><use href="#m5" x="415.0" y="293.4"/><use href="#m5" x="418.5" y="291.2"/><use href="#m5" x="422.0" y="289.0"/><use href="#m5" x="425.5" y="286.8"/><use href="#m5" x="429.0" y="284.7"/><use href="#m5" x="432.5" y="282.5"/><use href="#m5" x="436.0" y="280.4"/><use href="#m5" x="439.5" y="278.3"/><use href="#m5" x="443.0" y="276.2"/><use href="#m5" x="446.5" y="274.1"/><use href="#m5" x="450.0" y="272.0"/><use href="#m5" x="453.5" y="269.9"/><use href="#m5" x="457.0" y="267.8"/><use href="#m5" x="460.5" y="265.8"/><use href="#m5" x="464.0" y="263.7"/><use href="#m5" x="467.5" y="261.6"/><use href="#m5" x="471.0" y="259.6"/><use href="#m5" x="474.5" y="257.6"/><use href="#m5" x="478.0" y="255.5"/><use href="#m5" x="481.5" y="253.6"/><use href="#m5" x="485.0" y="251.7"/><use href="#m5" x="488.5" y="249.8"/><use href="#m5" x="492.0" y="247.9"/></g>
<polyline points="117.5,557.0 118.9,557.0 120.3,557.0 121.7,557.0 123.1,557.0 124.5,557.0 125.9,557.0 127.3,557.0 128.7,557.0 130.1,557.0 131.5,557.0 132.9,557.0 134.3,557.0 135.7,557.0 137.1,557.0 138.5,557.0 139.9,556.9 141.3,556.6 141.6,556.4 141.9,556.2 142.1,555.9 142.4,555.5 142.7,555.0 143.0,554.4 143.3,553.6 143.5,552.7 143.8,551.6 144.1,550.5 144.4,549.4 144.7,548.2 144.9,547.1 145.2,546.1 145.5,545.1 145.8,544.3 146.1,543.5 146.3,542.9 146.6,542.3 146.9,541.8 147.2,541.3 147.5,540.9 147.7,540.5 148.0,540.1 148.3,539.8 148.6,539.5 148.9,539.1 149.1,538.8 149.4,538.5 149.7,538.2 150.0,537.9 150.3,537.6 150.5,537.3 150.8,537.0 151.1,536.8 151.4,536.5 151.7,536.2 151.9,535.9 152.2,535.6 152.5,535.3 152.8,535.1 153.1,534.8 153.3,534.5 153.6,534.2 153.9,534.0 154.2,533.7 154.5,533.4 154.7,533.1 155.0,532.9 155.3,532.6 155.6,532.3 155.9,532.0 156.1,531.8 156.4,531.5 156.7,531.2 157.0,531.0 157.3,530.7 157.5,530.4 157.8,530.2 158.1,529.9 160.9,527.3 163.7,524.8 166.5,522.3 169.3,519.8 172.1,517.5 174.9,515.1 177.7,512.8 180.5,510.6 183.3,508.5 186.1,506.4 188.9,504.3 191.7,502.3 194.5,500.3 197.3,498.3 200.1,496.4 202.9,494.4 205.7,492.4 208.5,490.3 211.3,488.3 214.1,486.2 216.9,484.0 219.7,481.9 222.5,479.7 225.3,477.6 228.1,475.4 230.9,473.3 233.7,471.1 236.5,469.0 239.3,467.0 242.1,465.0 244.9,463.1 247.7,461.2 250.5,459.4 253.3,457.6 256.1,455.8 258.9,454.1 261.7,452.3 264.5,450.6 267.3,448.9 270.1,447.2 272.9,445.5 275.7,443.8 278.5,442.2 281.3,440.5 284.1,438.9 286.9,437.2 289.7,435.6 292.5,434.0 295.3,432.4 298.1,430.8 300.9,429.2 303.7,427.7 306.5,426.1 309.3,424.6 312.1,423.0 314.9,421.5 317.7,419.9 320.5,418.4 323.3,416.9 326.1,415.4 328.9,413.9 331.7,412.4 334.5,410.9 337.3,409.5 340.1,408.0 342.9,406.6 345.7,405.1 348.5,403.7 351.3,402.2 354.1,400.8 356.9,399.4 359.7,398.0 362.5,396.6 365.3,395.2 368.1,393.8 370.9,392.4 373.7,391.0 376.5,389.7 379.3,388.3 382.1,386.9 384.9,385.6 387.7,384.2 390.5,382.9 393.3,381.6 396.1,380.2 398.9,378.9 401.7,377.6 404.5,376.3 407.3,375.0 410.1,373.7 412.9,372.4 415.7,371.0 418.5,369.7 421.3,368.3 424.1,366.9 426.9,365.5 429.7,364.1 432.5,362.7 435.3,361.3 438.1,359.9 440.9,358.5 443.7,357.2 446.5,355.8 449.3,354.4 452.1,353.1 454.9,351.7 457.7,350.4 460.5,349.2 463.3,347.9 466.1,346.7 468.9,345.4 471.7,344.2 474.5,343.0 477.3,341.8 480.1,340.6 482.9,339.5 485.7,338.3 488.5,337.2 491.3,336.0 494.1,334.8 496.9,333.6 499.7,332.3" fill="none" stroke="#993333" stroke-width="1.1" stroke-dasharray="2.9 2.2"/>
</g>
<g stroke="#000" stroke-width="1.7" fill="none">
<path d="M110.5 557V218.5H491"/>
<path d="M109.65 557H491"/>
<path d="M180.5 557v-4 M180.5 218.5v4"/>
<path d="M250.5 557v-7 M250.5 218.5v7"/>
<path d="M320.5 557v-4 M320.5 218.5v4"/>
<path d="M390.5 557v-7 M390.5 218.5v7"/>
<path d="M460.5 557v-4 M460.5 218.5v4"/>
<path d="M110.5 489.2h4"/>
<path d="M110.5 421.5h7"/>
<path d="M110.5 353.8h4"/>
<path d="M110.5 286.0h7"/>
</g>
<g font-family="Liberation Sans, sans-serif" fill="#000">
<g font-size="16">
<text x="103" y="562.1" text-anchor="end">0</text>
<text x="103" y="426.5" text-anchor="end">10</text>
<text x="103" y="290.9" text-anchor="end">20</text>
<text x="110.2" y="576.7" text-anchor="middle">0</text>
<text x="250.2" y="576.7" text-anchor="middle">100</text>
<text x="390.2" y="576.7" text-anchor="middle">200</text>
<text x="302" y="604">T (K)</text>
<text x="427" y="247">(a)</text>
</g>
<text font-size="17.6" transform="translate(71.3 427.8) rotate(-90)">R (m&#937;)</text>
<text font-size="16" x="188.5" y="253">(Ba<tspan font-size="9.7" dy="5">0.55</tspan><tspan dy="-5">K</tspan><tspan font-size="9.7" dy="5">0.45</tspan><tspan dy="-5">)Fe</tspan><tspan font-size="9.7" dy="5">2</tspan><tspan dy="-5">As</tspan><tspan font-size="9.7" dy="5">2</tspan></text>
<g font-size="10">
<path d="M128.8 308.3H137 M144.6 308.3H152.7" stroke="#3c3c3c" stroke-width="0.8"/>
<use href="#m0" x="140.4" y="308.3"/>
<text x="155.6" y="311.9">P=0</text>
<path d="M128.8 321.0H137 M144.6 321.0H152.7" stroke="#ff0000" stroke-width="0.8"/>
<use href="#m1" x="140.4" y="321.0"/>
<text x="155.6" y="324.6">5.5 kbar</text>
<path d="M128.8 333.6H137 M144.6 333.6H152.7" stroke="#00e000" stroke-width="0.8"/>
<use href="#m2" x="140.4" y="333.6"/>
<text x="155.6" y="337.2">8.9 kbar</text>
<path d="M128.8 346.3H137 M144.6 346.3H152.7" stroke="#0000ff" stroke-width="0.8"/>
<use href="#m3" x="140.4" y="346.3"/>
<text x="155.6" y="349.9">15.6 kbar</text>
<path d="M128.8 358.9H137 M144.6 358.9H152.7" stroke="#993333" stroke-width="0.8"/>
<use href="#m4" x="140.4" y="358.9"/>
<text x="155.6" y="362.5">20.4 kbar</text>
<path d="M128.8 371.6H137 M144.6 371.6H152.7" stroke="#ff00ff" stroke-width="0.8"/>
<use href="#m5" x="140.4" y="371.6"/>
<text x="155.6" y="375.2">12.9 kbar</text>
<path d="M128.8 384.2H152.7" stroke="#a03c3c" stroke-width="1" stroke-dasharray="3.1 1.55"/>
<text x="155.6" y="387.8">20.4 kbar scaled</text>
</g>
<rect x="354.7" y="419.4" width="140" height="104.9" fill="#fff" stroke="none"/>
<polyline points="366.8,524.3 366.9,524.3 367.0,524.3 367.1,524.3 367.2,524.3 367.3,524.3 367.4,524.3 367.5,524.3 367.6,524.3 367.7,524.3 367.8,524.3 367.9,524.3 368.1,524.3 368.2,524.3 368.3,524.3 368.4,524.3 368.5,524.3 368.6,524.3 368.7,524.2 368.8,524.2 368.9,524.2 369.0,524.1 369.1,524.0 369.2,523.8 369.3,523.6 369.4,523.2 369.5,522.8 369.7,522.2 369.8,521.4 369.9,520.5 370.0,519.5 370.1,518.5 370.2,517.5 370.3,516.6 370.4,515.9 370.5,515.3 370.6,514.8 370.7,514.4 370.8,514.1 370.9,513.8 371.0,513.6 371.1,513.4 371.3,513.2 371.4,513.1 371.5,512.9 371.6,512.8 371.7,512.7 371.8,512.5 371.9,512.4 372.0,512.3 372.1,512.2 372.2,512.0 372.3,511.9 372.4,511.8 372.5,511.7 372.6,511.6 372.7,511.4 372.9,511.3 373.9,510.1 375.0,508.9 376.1,507.8 377.1,506.7 378.2,505.6 379.3,504.5 380.3,503.4 381.4,502.4 382.5,501.4 383.5,500.4 384.6,499.4 385.7,498.4 386.7,497.4 387.8,496.5 388.9,495.5 389.9,494.6 391.0,493.7 392.1,492.7 393.1,491.8 394.2,491.0 395.3,490.1 396.4,489.2 397.4,488.3 398.5,487.5 399.6,486.6 400.6,485.8 401.7,485.0 402.8,484.1 403.8,483.3 404.9,482.5 406.0,481.7 407.0,480.9 408.1,480.1 409.2,479.4 410.2,478.6 411.3,477.8 412.4,477.1 413.4,476.3 414.5,475.5 415.6,474.8 416.6,474.0 417.7,473.3 418.8,472.6 419.8,471.9 420.9,471.1 422.0,470.4 423.1,469.7 424.1,469.0 425.2,468.3 426.3,467.6 427.3,466.9 428.4,466.2 429.5,465.5 430.5,464.8 431.6,464.1 432.7,463.5 433.7,462.8 434.8,462.1 435.9,461.5 436.9,460.8 438.0,460.1 439.1,459.5 440.1,458.8 441.2,458.2 442.3,457.5 443.3,456.9 444.4,456.3 445.5,455.6 446.5,455.0 447.6,454.4 448.7,453.7 449.8,453.1 450.8,452.5 451.9,451.9 453.0,451.2 454.0,450.6 455.1,450.0 456.2,449.4 457.2,448.8 458.3,448.2 459.4,447.6 460.4,447.0 461.5,446.4 462.6,445.8 463.6,445.2 464.7,444.6 465.8,444.0 466.8,443.5 467.9,442.9 469.0,442.3 470.0,441.7 471.1,441.1 472.2,440.6 473.2,440.0 474.3,439.4 475.4,438.9 476.5,438.3 477.5,437.7 478.6,437.2 479.7,436.6 480.7,436.1 481.8,435.5 482.9,434.9 483.9,434.4 485.0,433.8 486.1,433.3 487.1,432.8 488.2,432.2 489.3,431.7 490.3,431.1 491.4,430.6 492.5,430.0 493.5,429.5 494.6,429.0 495.7,428.4 496.7,427.9 497.8,427.4 498.9,426.8 499.9,426.3 501.0,425.8 502.1,425.3 503.2,424.8" fill="none" stroke="#3c3c3c" stroke-width="0.9" clip-path="url(#ci)"/>
<polyline points="366.8,524.6 366.9,524.6 367.0,524.6 367.1,524.6 367.2,524.6 367.3,524.6 367.4,524.6 367.5,524.6 367.6,524.6 367.7,524.6 367.8,524.6 367.9,524.6 368.1,524.6 368.2,524.6 368.3,524.6 368.4,524.6 368.5,524.6 368.6,524.5 368.7,524.5 368.8,524.5 368.9,524.4 369.0,524.3 369.1,524.1 369.2,523.9 369.3,523.5 369.4,523.1 369.5,522.5 369.7,521.7 369.8,520.8 369.9,519.9 370.0,518.8 370.1,517.9 370.2,517.0 370.3,516.3 370.4,515.7 370.5,515.2 370.6,514.8 370.7,514.5 370.8,514.2 370.9,514.0 371.0,513.8 371.1,513.7 371.3,513.5 371.4,513.4 371.5,513.2 371.6,513.1 371.7,513.0 371.8,512.8 371.9,512.7 372.0,512.6 372.1,512.5 372.2,512.3 372.3,512.2 372.4,512.1 372.5,512.0 372.6,511.9 372.7,511.7 372.9,511.6 373.9,510.4 375.0,509.2 376.1,508.1 377.1,507.0 378.2,505.9 379.3,504.8 380.3,503.7 381.4,502.7 382.5,501.7 383.5,500.7 384.6,499.7 385.7,498.7 386.7,497.7 387.8,496.8 388.9,495.8 389.9,494.9 391.0,494.0 392.1,493.0 393.1,492.1 394.2,491.3 395.3,490.4 396.4,489.5 397.4,488.6 398.5,487.8 399.6,486.9 400.6,486.1 401.7,485.3 402.8,484.4 403.8,483.6 404.9,482.8 406.0,482.0 407.0,481.2 408.1,480.4 409.2,479.7 410.2,478.9 411.3,478.1 412.4,477.4 413.4,476.6 414.5,475.8 415.6,475.1 416.6,474.3 417.7,473.6 418.8,472.9 419.8,472.2 420.9,471.4 422.0,470.7 423.1,470.0 424.1,469.3 425.2,468.6 426.3,467.9 427.3,467.2 428.4,466.5 429.5,465.8 430.5,465.1 431.6,464.4 432.7,463.8 433.7,463.1 434.8,462.4 435.9,461.8 436.9,461.1 438.0,460.4 439.1,459.8 440.1,459.1 441.2,458.5 442.3,457.8 443.3,457.2 444.4,456.6 445.5,455.9 446.5,455.3 447.6,454.7 448.7,454.0 449.8,453.4 450.8,452.8 451.9,452.2 453.0,451.5 454.0,450.9 455.1,450.3 456.2,449.7 457.2,449.1 458.3,448.5 459.4,447.9 460.4,447.3 461.5,446.7 462.6,446.1 463.6,445.5 464.7,444.9 465.8,444.3 466.8,443.8 467.9,443.2 469.0,442.6 470.0,442.0 471.1,441.4 472.2,440.9 473.2,440.3 474.3,439.7 475.4,439.2 476.5,438.6 477.5,438.0 478.6,437.5 479.7,436.9 480.7,436.4 481.8,435.8 482.9,435.2 483.9,434.7 485.0,434.1 486.1,433.6 487.1,433.1 488.2,432.5 489.3,432.0 490.3,431.4 491.4,430.9 492.5,430.3 493.5,429.8 494.6,429.3 495.7,428.7 496.7,428.2 497.8,427.7 498.9,427.1 499.9,426.6 501.0,426.1 502.1,425.6 503.2,425.1" fill="none" stroke="#00e000" stroke-width="0.9" clip-path="url(#ci)"/>
<polyline points="366.8,524.8 366.9,524.8 367.0,524.8 367.1,524.8 367.2,524.8 367.3,524.8 367.4,524.8 367.5,524.8 367.6,524.8 367.7,524.8 367.8,524.8 367.9,524.8 368.1,524.8 368.2,524.8 368.3,524.8 368.4,524.8 368.5,524.8 368.6,524.8 368.7,524.8 368.8,524.7 368.9,524.7 369.0,524.7 369.1,524.6 369.2,524.5 369.3,524.4 369.4,524.2 369.5,523.9 369.7,523.5 369.8,523.0 369.9,522.3 370.0,521.4 370.1,520.5 370.2,519.4 370.3,518.4 370.4,517.5 370.5,516.7 370.6,516.0 370.7,515.4 370.8,515.0 370.9,514.6 371.0,514.4 371.1,514.1 371.3,513.9 371.4,513.8 371.5,513.6 371.6,513.4 371.7,513.3 371.8,513.2 371.9,513.0 372.0,512.9 372.1,512.8 372.2,512.7 372.3,512.5 372.4,512.4 372.5,512.3 372.6,512.2 372.7,512.1 372.9,511.9 373.9,510.8 375.0,509.6 376.1,508.5 377.1,507.4 378.2,506.3 379.3,505.2 380.3,504.1 381.4,503.1 382.5,502.1 383.5,501.1 384.6,500.1 385.7,499.1 386.7,498.2 387.8,497.2 388.9,496.3 389.9,495.4 391.0,494.5 392.1,493.6 393.1,492.7 394.2,491.8 395.3,490.9 396.4,490.1 397.4,489.2 398.5,488.4 399.6,487.5 400.6,486.7 401.7,485.9 402.8,485.1 403.8,484.2 404.9,483.4 406.0,482.7 407.0,481.9 408.1,481.1 409.2,480.3 410.2,479.5 411.3,478.8 412.4,478.0 413.4,477.3 414.5,476.5 415.6,475.8 416.6,475.1 417.7,474.3 418.8,473.6 419.8,472.9 420.9,472.2 422.0,471.5 423.1,470.7 424.1,470.0 425.2,469.3 426.3,468.7 427.3,468.0 428.4,467.3 429.5,466.6 430.5,465.9 431.6,465.2 432.7,464.6 433.7,463.9 434.8,463.2 435.9,462.6 436.9,461.9 438.0,461.3 439.1,460.6 440.1,460.0 441.2,459.3 442.3,458.7 443.3,458.1 444.4,457.4 445.5,456.8 446.5,456.2 447.6,455.6 448.7,454.9 449.8,454.3 450.8,453.7 451.9,453.1 453.0,452.5 454.0,451.9 455.1,451.3 456.2,450.7 457.2,450.1 458.3,449.5 459.4,448.9 460.4,448.3 461.5,447.7 462.6,447.1 463.6,446.5 464.7,445.9 465.8,445.4 466.8,444.8 467.9,444.2 469.0,443.6 470.0,443.1 471.1,442.5 472.2,441.9 473.2,441.3 474.3,440.8 475.4,440.2 476.5,439.7 477.5,439.1 478.6,438.5 479.7,438.0 480.7,437.4 481.8,436.9 482.9,436.3 483.9,435.8 485.0,435.3 486.1,434.7 487.1,434.2 488.2,433.6 489.3,433.1 490.3,432.6 491.4,432.0 492.5,431.5 493.5,431.0 494.6,430.4 495.7,429.9 496.7,429.4 497.8,428.8 498.9,428.3 499.9,427.8 501.0,427.3 502.1,426.8 503.2,426.2" fill="none" stroke="#0000ff" stroke-width="0.9" clip-path="url(#ci)"/>
<polyline points="366.8,523.4 366.9,523.3 367.0,523.1 367.1,522.9 367.2,522.6 367.3,522.3 367.4,522.0 367.5,521.6 367.6,521.2 367.7,520.8 367.8,520.3 367.9,519.9 368.1,519.4 368.2,519.0 368.3,518.5 368.4,518.1 368.5,517.7 368.6,517.4 368.7,517.0 368.8,516.7 368.9,516.4 369.0,516.2 369.1,515.9 369.2,515.7 369.3,515.5 369.4,515.3 369.5,515.1 369.7,515.0 369.8,514.8 369.9,514.6 370.0,514.5 370.1,514.3 370.2,514.2 370.3,514.1 370.4,513.9 370.5,513.8 370.6,513.6 370.7,513.5 370.8,513.4 370.9,513.3 371.0,513.1 371.1,513.0 371.3,512.9 371.4,512.7 371.5,512.6 371.6,512.5 371.7,512.4 371.8,512.2 371.9,512.1 372.0,512.0 372.1,511.9 372.2,511.7 372.3,511.6 372.4,511.5 372.5,511.4 372.6,511.3 372.7,511.1 372.9,511.0 373.9,509.8 375.0,508.6 376.1,507.5 377.1,506.4 378.2,505.3 379.3,504.2 380.3,503.1 381.4,502.1 382.5,501.1 383.5,500.1 384.6,499.1 385.7,498.1 386.7,497.1 387.8,496.2 388.9,495.2 389.9,494.3 391.0,493.4 392.1,492.4 393.1,491.5 394.2,490.7 395.3,489.8 396.4,488.9 397.4,488.0 398.5,487.2 399.6,486.3 400.6,485.5 401.7,484.7 402.8,483.8 403.8,483.0 404.9,482.2 406.0,481.4 407.0,480.6 408.1,479.8 409.2,479.1 410.2,478.3 411.3,477.5 412.4,476.8 413.4,476.0 414.5,475.2 415.6,474.5 416.6,473.7 417.7,473.0 418.8,472.3 419.8,471.6 420.9,470.8 422.0,470.1 423.1,469.4 424.1,468.7 425.2,468.0 426.3,467.3 427.3,466.6 428.4,465.9 429.5,465.2 430.5,464.5 431.6,463.8 432.7,463.2 433.7,462.5 434.8,461.8 435.9,461.2 436.9,460.5 438.0,459.8 439.1,459.2 440.1,458.5 441.2,457.9 442.3,457.2 443.3,456.6 444.4,456.0 445.5,455.3 446.5,454.7 447.6,454.1 448.7,453.4 449.8,452.8 450.8,452.2 451.9,451.6 453.0,450.9 454.0,450.3 455.1,449.7 456.2,449.1 457.2,448.5 458.3,447.9 459.4,447.3 460.4,446.7 461.5,446.1 462.6,445.5 463.6,444.9 464.7,444.3 465.8,443.7 466.8,443.2 467.9,442.6 469.0,442.0 470.0,441.4 471.1,440.8 472.2,440.3 473.2,439.7 474.3,439.1 475.4,438.6 476.5,438.0 477.5,437.4 478.6,436.9 479.7,436.3 480.7,435.8 481.8,435.2 482.9,434.6 483.9,434.1 485.0,433.5 486.1,433.0 487.1,432.5 488.2,431.9 489.3,431.4 490.3,430.8 491.4,430.3 492.5,429.7 493.5,429.2 494.6,428.7 495.7,428.1 496.7,427.6 497.8,427.1 498.9,426.5 499.9,426.0 501.0,425.5 502.1,425.0 503.2,424.5" fill="none" stroke="#993333" stroke-width="0.9" clip-path="url(#ci)"/>
<polyline points="366.8,524.3 366.9,524.3 367.0,524.3 367.1,524.3 367.2,524.3 367.3,524.3 367.4,524.3 367.5,524.3 367.6,524.3 367.7,524.3 367.8,524.3 367.9,524.3 368.1,524.3 368.2,524.3 368.3,524.3 368.4,524.3 368.5,524.3 368.6,524.3 368.7,524.2 368.8,524.2 368.9,524.1 369.0,524.1 369.1,524.0 369.2,523.8 369.3,523.6 369.4,523.2 369.5,522.8 369.7,522.2 369.8,521.4 369.9,520.5 370.0,519.5 370.1,518.4 370.2,517.5 370.3,516.6 370.4,515.8 370.5,515.2 370.6,514.7 370.7,514.3 370.8,514.0 370.9,513.8 371.0,513.6 371.1,513.4 371.3,513.2 371.4,513.0 371.5,512.9 371.6,512.8 371.7,512.6 371.8,512.5 371.9,512.4 372.0,512.2 372.1,512.1 372.2,512.0 372.3,511.9 372.4,511.7 372.5,511.6 372.6,511.5 372.7,511.4 372.9,511.2 373.9,510.0 375.0,508.9 376.1,507.7 377.1,506.6 378.2,505.5 379.3,504.4 380.3,503.3 381.4,502.3 382.5,501.3 383.5,500.2 384.6,499.2 385.7,498.2 386.7,497.3 387.8,496.3 388.9,495.4 389.9,494.4 391.0,493.5 392.1,492.6 393.1,491.7 394.2,490.8 395.3,489.9 396.4,489.0 397.4,488.2 398.5,487.3 399.6,486.5 400.6,485.6 401.7,484.8 402.8,483.9 403.8,483.1 404.9,482.3 406.0,481.5 407.0,480.7 408.1,479.9 409.2,479.1 410.2,478.4 411.3,477.6 412.4,476.8 413.4,476.1 414.5,475.3 415.6,474.5 416.6,473.8 417.7,473.1 418.8,472.3 419.8,471.6 420.9,470.9 422.0,470.1 423.1,469.4 424.1,468.7 425.2,468.0 426.3,467.3 427.3,466.6 428.4,465.9 429.5,465.2 430.5,464.5 431.6,463.8 432.7,463.2 433.7,462.5 434.8,461.8 435.9,461.1 436.9,460.5 438.0,459.8 439.1,459.2 440.1,458.5 441.2,457.9 442.3,457.2 443.3,456.6 444.4,455.9 445.5,455.3 446.5,454.6 447.6,454.0 448.7,453.4 449.8,452.7 450.8,452.1 451.9,451.5 453.0,450.9 454.0,450.3 455.1,449.7 456.2,449.0 457.2,448.4 458.3,447.8 459.4,447.2 460.4,446.6 461.5,446.0 462.6,445.4 463.6,444.8 464.7,444.2 465.8,443.6 466.8,443.1 467.9,442.5 469.0,441.9 470.0,441.3 471.1,440.7 472.2,440.2 473.2,439.6 474.3,439.0 475.4,438.4 476.5,437.9 477.5,437.3 478.6,436.7 479.7,436.2 480.7,435.6 481.8,435.1 482.9,434.5 483.9,433.9 485.0,433.4 486.1,432.8 487.1,432.3 488.2,431.7 489.3,431.2 490.3,430.7 491.4,430.1 492.5,429.6 493.5,429.0 494.6,428.5 495.7,428.0 496.7,427.4 497.8,426.9 498.9,426.4 499.9,425.8 501.0,425.3 502.1,424.8 503.2,424.3" fill="none" stroke="#ff0000" stroke-width="0.9" clip-path="url(#ci)"/>
<polyline points="366.8,524.3 366.9,524.3 367.0,524.3 367.1,524.3 367.2,524.3 367.3,524.3 367.4,524.2 367.5,524.2 367.6,524.2 367.7,524.1 367.8,524.1 367.9,524.0 368.1,523.8 368.2,523.6 368.3,523.4 368.4,523.1 368.5,522.7 368.6,522.2 368.7,521.6 368.8,520.9 368.9,520.2 369.0,519.4 369.1,518.6 369.2,517.9 369.3,517.3 369.4,516.8 369.5,516.3 369.7,515.9 369.8,515.6 369.9,515.3 370.0,515.0 370.1,514.8 370.2,514.6 370.3,514.4 370.4,514.3 370.5,514.1 370.6,514.0 370.7,513.8 370.8,513.7 370.9,513.6 371.0,513.4 371.1,513.3 371.3,513.2 371.4,513.0 371.5,512.9 371.6,512.8 371.7,512.7 371.8,512.5 371.9,512.4 372.0,512.3 372.1,512.2 372.2,512.0 372.3,511.9 372.4,511.8 372.5,511.7 372.6,511.6 372.7,511.4 372.9,511.3 373.9,510.1 375.0,508.9 376.1,507.8 377.1,506.7 378.2,505.6 379.3,504.5 380.3,503.4 381.4,502.4 382.5,501.4 383.5,500.4 384.6,499.4 385.7,498.4 386.7,497.4 387.8,496.5 388.9,495.5 389.9,494.6 391.0,493.7 392.1,492.7 393.1,491.8 394.2,491.0 395.3,490.1 396.4,489.2 397.4,488.3 398.5,487.5 399.6,486.6 400.6,485.8 401.7,485.0 402.8,484.1 403.8,483.3 404.9,482.5 406.0,481.7 407.0,480.9 408.1,480.1 409.2,479.4 410.2,478.6 411.3,477.8 412.4,477.1 413.4,476.3 414.5,475.5 415.6,474.8 416.6,474.0 417.7,473.3 418.8,472.6 419.8,471.9 420.9,471.1 422.0,470.4 423.1,469.7 424.1,469.0 425.2,468.3 426.3,467.6 427.3,466.9 428.4,466.2 429.5,465.5 430.5,464.8 431.6,464.1 432.7,463.5 433.7,462.8 434.8,462.1 435.9,461.5 436.9,460.8 438.0,460.1 439.1,459.5 440.1,458.8 441.2,458.2 442.3,457.5 443.3,456.9 444.4,456.3 445.5,455.6 446.5,455.0 447.6,454.4 448.7,453.7 449.8,453.1 450.8,452.5 451.9,451.9 453.0,451.2 454.0,450.6 455.1,450.0 456.2,449.4 457.2,448.8 458.3,448.2 459.4,447.6 460.4,447.0 461.5,446.4 462.6,445.8 463.6,445.2 464.7,444.6 465.8,444.0 466.8,443.5 467.9,442.9 469.0,442.3 470.0,441.7 471.1,441.1 472.2,440.6 473.2,440.0 474.3,439.4 475.4,438.9 476.5,438.3 477.5,437.7 478.6,437.2 479.7,436.6 480.7,436.1 481.8,435.5 482.9,434.9 483.9,434.4 485.0,433.8 486.1,433.3 487.1,432.8 488.2,432.2 489.3,431.7 490.3,431.1 491.4,430.6 492.5,430.0 493.5,429.5 494.6,429.0 495.7,428.4 496.7,427.9 497.8,427.4 498.9,426.8 499.9,426.3 501.0,425.8 502.1,425.3 503.2,424.8" fill="none" stroke="#ff00ff" stroke-width="0.9" clip-path="url(#ci)"/>
<g stroke="#111" stroke-width="0.95" fill="none">
<path d="M354.7 524.3V419.4H491 M354.3 524.3H491"/>
<path d="M381.4 524.3v-1.2 M381.4 419.4v1.2"/>
<path d="M408.1 524.3v-2.2 M408.1 419.4v2.2"/>
<path d="M434.8 524.3v-1.2 M434.8 419.4v1.2"/>
<path d="M461.5 524.3v-2.2 M461.5 419.4v2.2"/>
<path d="M488.2 524.3v-1.2 M488.2 419.4v1.2"/>
<path d="M354.7 498.0h1.2"/>
<path d="M354.7 471.7h2.2"/>
<path d="M354.7 445.4h1.2"/>
</g>
<g font-size="10">
<text x="352.2" y="527.8" text-anchor="end">0.0</text>
<text x="352.2" y="475.2" text-anchor="end">0.5</text>
<text x="352.2" y="421.6" text-anchor="end">1.0</text>
<text x="354.5" y="535.4" text-anchor="middle">0</text>
<text x="407.9" y="535.4" text-anchor="middle">100</text>
<text x="461.3" y="535.4" text-anchor="middle">200</text>
<text x="423.8" y="548.4">T (K)</text>
<text transform="translate(328.5 501.8) rotate(-90)">&#961;/<tspan dy="1.8">&#961;</tspan><tspan dy="-1.8">(300K)</tspan></text>
</g>
</g>
</svg>
</body></html>
